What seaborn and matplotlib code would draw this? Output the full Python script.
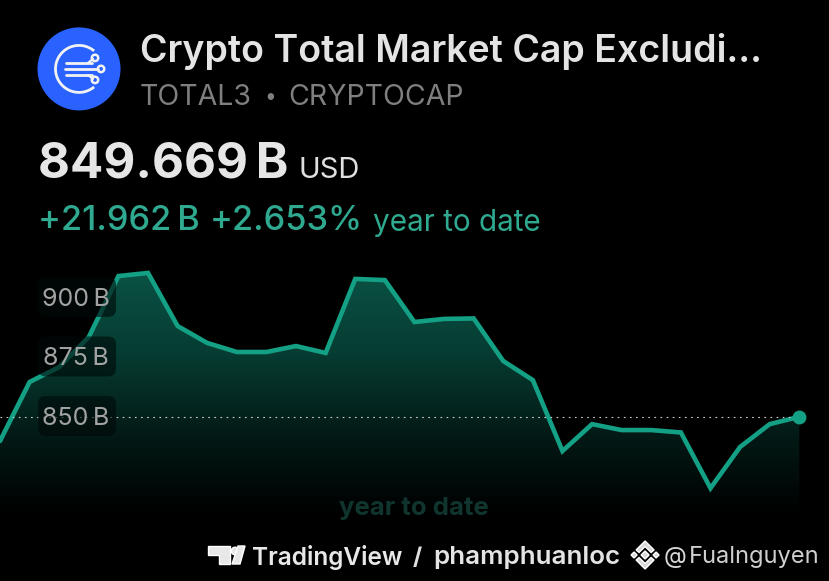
import numpy as np
import pandas as pd
import matplotlib
matplotlib.use("Agg")
import matplotlib.pyplot as plt
from matplotlib.colors import LinearSegmentedColormap
from matplotlib.patches import Circle, FancyBboxPatch, Polygon, Arc
import seaborn as sns

values = [839.5, 864.3, 870.6, 883.2, 908.8, 910.1, 887.8, 880.7, 876.9, 876.9,
          879.4, 876.5, 907.6, 907.1, 889.5, 890.8, 891.0, 873.1, 865.1, 835.3,
          846.6, 844.1, 844.1, 843.1, 819.7, 837.0, 846.6, 849.669]
periods = list(range(len(values)))
tick_values = [850, 875, 900]
tick_labels = ["900\u2009B", "875\u2009B", "850\u2009B"]
title = "Crypto Total Market Cap Excludi..."
price = "849.669\u2009B"

sns.set_theme(style="dark")
plt.rcParams["font.family"] = ["Inter", "DejaVu Sans"]
GREEN = "#14a085"
df = pd.DataFrame({"period": periods, "value": values})

fig = plt.figure(figsize=(8.291, 5.811), dpi=100, facecolor="black")
ax = fig.add_axes([0, 0, 1, 1], facecolor="black")
ax.set_xlim(0, 829 / 29.6)
ax.set_ylim(780.7, 1024.8)
ax.axis("off")

# gradient area under the line
cmap = LinearSegmentedColormap.from_list("fade", ["#000000", "#031a16", "#063c32", "#0a5244"])
grad = np.linspace(1, 0, 256).reshape(-1, 1)
top, bottom = 910.5, 808
im = ax.imshow(grad, extent=[0, 27, bottom, top], aspect="auto", cmap=cmap, zorder=1,
               interpolation="bilinear")
poly = ax.fill_between(periods, values, bottom, color="none", zorder=1)
im.set_clip_path(poly.get_paths()[0], transform=ax.transData)
ax.set_xlim(0, 829 / 29.6)
ax.set_ylim(780.7, 1024.8)

sns.lineplot(data=df, x="period", y="value", ax=ax, color=GREEN, lw=3.3, zorder=3,
             legend=False, solid_joinstyle="miter")
ax.plot([0, 27], [values[-1]] * 2, color="#cfcfcf", lw=0.8, ls=(0, (1.5, 4)), zorder=4)
ax.plot([27], [values[-1]], "o", color=GREEN, ms=10, mew=0, zorder=5)
ax.axis("off")

# overlay in pixel space
ov = fig.add_axes([0, 0, 1, 1], facecolor="none")
ov.set_xlim(0, 829)
ov.set_ylim(581, 0)
ov.axis("off")

for val, lab in zip(tick_values, tick_labels[::-1]):
    y = 581 - ax.transData.transform((0, val))[1]
    ov.add_patch(FancyBboxPatch((46, y - 12), 62, 24, boxstyle="round,pad=8,rounding_size=8",
                                fc=(0.0, 0.04, 0.035, 0.62), ec="none", zorder=6))
    ov.text(76, y + 2, lab, color="#a3a3a3", fontsize=18, ha="center", va="center", zorder=7)

# logo
ov.add_patch(Circle((79, 69), 41.5, fc="#2962ff", ec="none"))
ov.add_patch(Arc((79, 69), 47, 47, theta1=50, theta2=310, color="#f2f2f2", lw=2))
for y0, x1 in [(63, 92), (69, 98), (75, 92)]:
    ov.plot([66 if y0 != 69 else 65, x1], [y0, y0], color="#f2f2f2", lw=2, solid_capstyle="round")
for (cx, cy) in [(95, 58), (101, 69), (95, 80)]:
    ov.add_patch(Circle((cx, cy), 3.2, fc="#2962ff", ec="#f2f2f2", lw=1.8))
ov.plot([88, 93], [63, 59], color="#f2f2f2", lw=1.6)
ov.plot([88, 93], [75, 79], color="#f2f2f2", lw=1.6)

# header text
ov.text(140, 51, title, color="#e4e4e4", fontsize=27, fontweight="semibold", va="center")
ov.text(140, 97, "TOTAL3", color="#7f7f7f", fontsize=20.5, va="center")
ov.text(270, 97, "\u2022", color="#7f7f7f", fontsize=15, ha="center", va="center")
ov.text(288, 97, "CRYPTOCAP", color="#7f7f7f", fontsize=20.5, va="center")
ov.text(38, 164, price, color="#e6e6e6", fontsize=35.5, fontweight="bold", va="center")
ov.text(298, 170, "USD", color="#e0e0e0", fontsize=21, va="center")
ov.text(38, 221, "+21.962\u2009B", color="#2fa98f", fontsize=24.7, fontweight="medium", va="center")
ov.text(210, 221, "+2.653%", color="#2fa98f", fontsize=24.7, fontweight="medium", va="center")
ov.text(373, 223, "year to date", color="#2fa98f", fontsize=21.4, va="center")
ov.text(414, 508, "year to date", color="#10352e", fontsize=18.5, fontweight="bold", ha="center", va="center")

# watermark
ov.add_patch(Polygon([(208, 546), (230, 546), (230, 564), (219, 564), (219, 555), (208, 555)], fc="#e8e8e8"))
ov.add_patch(Circle((235, 551), 3.8, fc="#e8e8e8"))
ov.add_patch(Polygon([(232, 564), (238, 546), (245, 546), (240, 564)], fc="#e8e8e8"))
ov.text(252, 557, "TradingView", color="#e8e8e8", fontsize=17.6, fontweight="semibold", va="center")
ov.text(413, 558, "/", color="#e0e0e0", fontsize=17, fontweight="bold", va="center")
ov.text(433, 557, "phamphuanloc", color="#e4e4e4", fontsize=18.7, fontweight="semibold", va="center")
CX, CY = 645, 555
C = "#d8d8d8"
for dx, dy, r in [(0, 0, 4), (-11, 0, 3), (11, 0, 3)]:
    ov.add_patch(Polygon([(CX + dx - r, CY + dy), (CX + dx, CY + dy - r),
                          (CX + dx + r, CY + dy), (CX + dx, CY + dy + r)], fc=C))
for s in (-1, 1):
    ov.add_patch(Polygon([(CX - 9, CY + s * 5), (CX, CY + s * 14), (CX + 9, CY + s * 5),
                          (CX + 6, CY + s * 2.5), (CX, CY + s * 8.5), (CX - 6, CY + s * 2.5)], fc=C))
ov.text(664, 557, "@", color="#d8d8d8", fontsize=17, va="center")
ov.text(689, 557, "Fualnguyen", color="#cfcfcf", fontsize=17, va="center")

fig.savefig("out.png", dpi=100, facecolor="black")
